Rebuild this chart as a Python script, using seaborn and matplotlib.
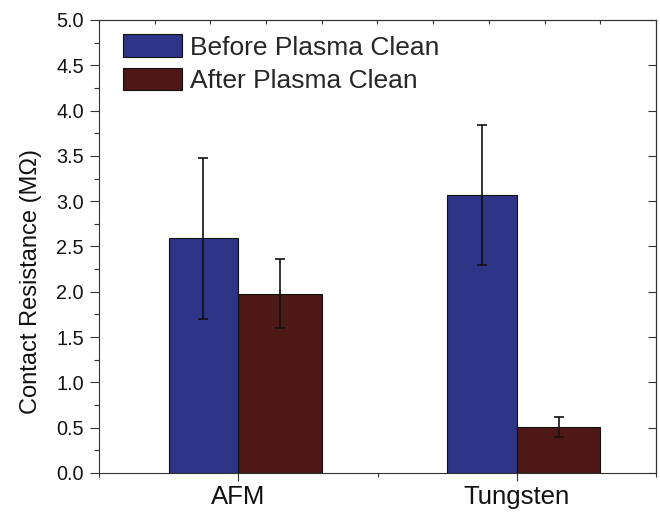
import numpy as np
import pandas as pd
import matplotlib
matplotlib.use("Agg")
import matplotlib.pyplot as plt
import seaborn as sns
from matplotlib.ticker import MultipleLocator, FixedLocator
from matplotlib.patches import Patch

# ---- data ----
categories = ["AFM", "Tungsten"]
series = ["Before Plasma Clean", "After Plasma Clean"]
before = [2.59, 3.07]
before_err = [0.89, 0.77]
after = [1.98, 0.51]
after_err = [0.38, 0.11]
ylabel = "Contact Resistance (M\u03a9)"

blue = "#2E3486"
red = "#4E1816"
axis_col = "#333333"

sns.set_theme(style="ticks")
plt.rcParams["font.family"] = ["Liberation Sans", "DejaVu Sans"]

fig = plt.figure(figsize=(6.6, 5.13), dpi=100)
ax = fig.add_axes([99 / 660, 40 / 513, 557 / 660, 453 / 513])

pos = np.arange(1, len(categories) + 1)
xb = pos - 0.125
xa = pos + 0.15

df_b = pd.DataFrame({"x": xb, "y": before})
df_a = pd.DataFrame({"x": xa, "y": after})

sns.barplot(data=df_b, x="x", y="y", native_scale=True, orient="x", width=0.25,
            color=blue, saturation=1, edgecolor="#111111", linewidth=0.8,
            errorbar=None, ax=ax)
sns.barplot(data=df_a, x="x", y="y", native_scale=True, orient="x", width=0.30,
            color=red, saturation=1, edgecolor="#111111", linewidth=0.8,
            errorbar=None, ax=ax)

ax.errorbar(xb, before, yerr=before_err, fmt="none", ecolor="#111111",
            elinewidth=1.2, capsize=3.6, capthick=1.2)
ax.errorbar(xa, after, yerr=after_err, fmt="none", ecolor="#111111",
            elinewidth=1.2, capsize=3.6, capthick=1.2)

ax.set_xlim(0.5, 2.5)
ax.set_ylim(0, 5)
ax.xaxis.set_major_locator(FixedLocator(pos))
ax.set_xticklabels(categories)
ax.xaxis.set_minor_locator(FixedLocator([0.5, 1.5, 2.5]))
ax.yaxis.set_major_locator(MultipleLocator(0.5))
ax.yaxis.set_minor_locator(MultipleLocator(0.25))
ax.yaxis.set_major_formatter(matplotlib.ticker.FormatStrFormatter("%.1f"))
ax.set_xlabel("")
ax.set_ylabel(ylabel, fontsize=17, color="#111111")
ax.yaxis.set_label_coords(-0.103, 0.423)

for s in ax.spines.values():
    s.set_visible(True)
    s.set_color(axis_col)
    s.set_linewidth(0.8)

ax.tick_params(axis="y", which="major", direction="out", length=6.5, width=0.8,
               color=axis_col, labelsize=14.3, pad=4.5, right=False, labelcolor="#111111")
ax.tick_params(axis="y", which="minor", direction="out", length=3.6, width=0.8,
               color=axis_col, right=False)
ax.tick_params(axis="x", which="major", direction="out", length=5.8, width=0.8,
               color=axis_col, labelsize=18.5, pad=3, top=False, labelcolor="#111111")
ax.tick_params(axis="x", which="minor", direction="out", length=3, width=0.8,
               color=axis_col, top=False)

secr = ax.secondary_yaxis("right")
secr.yaxis.set_major_locator(MultipleLocator(0.5))
secr.tick_params(direction="in", length=5.8, width=0.8, color=axis_col, labelright=False)
secr.spines["right"].set_color(axis_col)
secr.spines["right"].set_linewidth(0.8)

sect = ax.secondary_xaxis("top")
sect.xaxis.set_major_locator(FixedLocator(np.arange(0.5, 2.51, 0.2)))
sect.tick_params(direction="in", length=3, width=0.8, color=axis_col, labeltop=False)
sect.spines["top"].set_color(axis_col)
sect.spines["top"].set_linewidth(0.8)

handles = [Patch(facecolor=blue, edgecolor="#111111", linewidth=0.8, label=series[0]),
           Patch(facecolor=red, edgecolor="#111111", linewidth=0.8, label=series[1])]
ax.legend(handles=handles, loc="upper left", bbox_to_anchor=(0.043, 0.968),
          frameon=False, fontsize=19, handlelength=2.23, handleheight=0.91,
          handletextpad=0.3, labelspacing=0.33, borderpad=0, borderaxespad=0)

fig.savefig("out.png", dpi=100)
